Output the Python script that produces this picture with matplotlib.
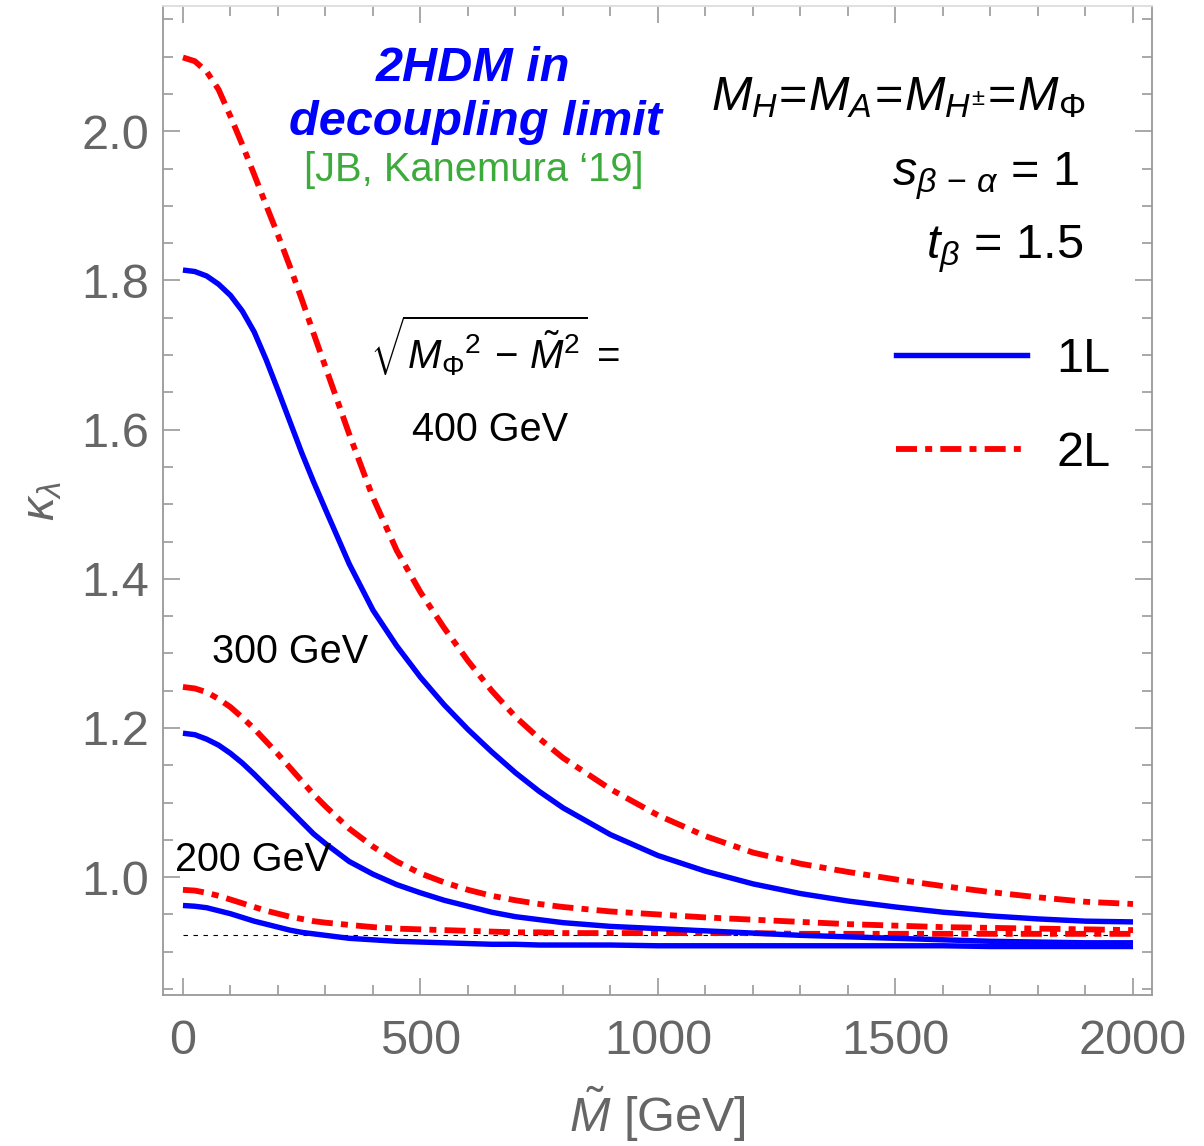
import matplotlib
matplotlib.use('Agg')
import matplotlib.pyplot as plt
from matplotlib.ticker import MultipleLocator

plt.rcParams.update({
    'font.family': ['Liberation Sans', 'DejaVu Sans'],
    'mathtext.fontset': 'custom',
    'mathtext.rm': 'Liberation Sans',
    'mathtext.it': 'Liberation Sans:italic',
    'mathtext.bf': 'Liberation Sans:bold',
})

# M-tilde grid [GeV]
m_tilde = [0, 25, 50, 75, 100, 125, 150, 175, 200, 225, 250, 275, 300,
           350, 400, 450, 500, 550, 600, 650, 700, 750, 800,
           900, 1000, 1100, 1200, 1300, 1400, 1500, 1600, 1700, 1800, 1900, 2000]

# kappa_lambda for sqrt(M_Phi^2 - Mt^2) = 400 GeV
k400_1l = [1.814, 1.812, 1.806, 1.795, 1.780, 1.759, 1.731, 1.694, 1.653, 1.611, 1.569, 1.530, 1.493,
           1.420, 1.358, 1.310, 1.268, 1.231, 1.198, 1.168, 1.140, 1.115, 1.093,
           1.057, 1.029, 1.008, 0.991, 0.978, 0.968, 0.960, 0.953, 0.948, 0.944, 0.941, 0.940]
k400_2l = [2.099, 2.094, 2.080, 2.056, 2.020, 1.982, 1.942, 1.901, 1.861, 1.819, 1.775, 1.729, 1.684,
           1.594, 1.509, 1.438, 1.382, 1.334, 1.290, 1.250, 1.215, 1.186, 1.160,
           1.118, 1.083, 1.055, 1.033, 1.018, 1.007, 0.997, 0.988, 0.980, 0.973, 0.967, 0.964]
# 300 GeV
k300_1l = [1.193, 1.191, 1.185, 1.177, 1.166, 1.153, 1.138, 1.122, 1.106, 1.090, 1.074, 1.058, 1.045,
           1.021, 1.004, 0.990, 0.979, 0.969, 0.961, 0.953, 0.947, 0.943, 0.939,
           0.934, 0.931, 0.928, 0.925, 0.922, 0.920, 0.918, 0.916, 0.914, 0.913, 0.912, 0.912]
k300_2l = [1.255, 1.253, 1.248, 1.239, 1.228, 1.214, 1.199, 1.182, 1.165, 1.147, 1.129, 1.111, 1.095,
           1.065, 1.041, 1.021, 1.005, 0.993, 0.983, 0.975, 0.969, 0.964, 0.960,
           0.954, 0.950, 0.946, 0.943, 0.940, 0.937, 0.935, 0.933, 0.932, 0.931, 0.930, 0.929]
# 200 GeV
k200_1l = [0.962, 0.961, 0.959, 0.955, 0.951, 0.946, 0.941, 0.937, 0.933, 0.929, 0.926, 0.924, 0.922,
           0.918, 0.916, 0.914, 0.913, 0.912, 0.911, 0.910, 0.910, 0.909, 0.909,
           0.909, 0.908, 0.908, 0.908, 0.908, 0.908, 0.908, 0.908, 0.907, 0.907, 0.907, 0.907]
k200_2l = [0.983, 0.982, 0.979, 0.975, 0.970, 0.965, 0.960, 0.955, 0.951, 0.947, 0.944, 0.941, 0.939,
           0.936, 0.933, 0.931, 0.930, 0.929, 0.928, 0.927, 0.926, 0.926, 0.925,
           0.925, 0.925, 0.925, 0.925, 0.924, 0.924, 0.924, 0.924, 0.924, 0.924, 0.924, 0.924]

# SM-like reference level
k_ref = 0.922
ref_range = [0, 2000]

BLUE = '#0000ff'
RED = '#ff0000'
GREY = '#666666'
dashdot = (0, (3.6, 1.4, 1.2, 1.4))

fig = plt.figure(figsize=(12.04, 11.46), dpi=100)
ax = fig.add_axes([163 / 1204, 151 / 1146, 989 / 1204, 989 / 1146])

ax.plot(ref_range, [k_ref, k_ref], color='black', lw=0.8, ls=(0, (4, 5)))

for k1, k2 in [(k200_1l, k200_2l), (k300_1l, k300_2l), (k400_1l, k400_2l)]:
    ax.plot(m_tilde, k1, color=BLUE, lw=3.9, solid_capstyle='butt', solid_joinstyle='round')
    ax.plot(m_tilde, k2, color=RED, lw=4.2, ls=dashdot)

ax.set_xlim(-42, 2040)
ax.set_ylim(0.842, 2.168)

ax.xaxis.set_major_locator(MultipleLocator(500))
ax.xaxis.set_minor_locator(MultipleLocator(100))
ax.yaxis.set_major_locator(MultipleLocator(0.2))
ax.yaxis.set_minor_locator(MultipleLocator(0.05))
ax.yaxis.set_major_formatter(lambda v, p: f'{v:.1f}')

ax.tick_params(which='both', direction='in', top=True, right=True,
               color='#999999', width=1.2, labelsize=35, labelcolor=GREY)
ax.tick_params(which='major', length=12)
ax.tick_params(which='minor', length=7)
ax.tick_params(axis='x', pad=17)
ax.tick_params(axis='y', pad=10)
for s in ax.spines.values():
    s.set_color('#999999')
    s.set_linewidth(1.3)
ax.spines['top'].set_color('#dddddd')

ax.set_xlabel(r'$\tilde{M}$ [GeV]', fontsize=35, color=GREY, labelpad=15)
ax.set_ylabel(r'$\kappa_\lambda$', fontsize=34, color=GREY, labelpad=12)

# annotations
ax.text(610, 2.084, '2HDM in', ha='center', va='center',
        fontsize=35, fontweight='bold', fontstyle='italic', color=BLUE)
ax.text(615, 2.012, 'decoupling limit', ha='center', va='center',
        fontsize=35, fontweight='bold', fontstyle='italic', color=BLUE)
ax.text(613, 1.948, "[JB, Kanemura \u201819]", ha='center', va='center',
        fontsize=28.7, color='#3cab3c')

ax.text(1899, 2.028, r'$M_H\!=\!M_A\!=\!M_{H^{\pm}}\!=\!M_\Phi$', ha='right', va='baseline',
        fontsize=35)
ax.text(1888, 1.928, r'$s_{\beta\,-\,\alpha}$ = 1', ha='right', va='baseline', fontsize=35)
ax.text(1895, 1.830, r'$t_\beta$ = 1.5', ha='right', va='baseline', fontsize=35)

ax.text(657, 1.713, r'$\sqrt{{M_\Phi}^2\,-\,\tilde{M}^2}$ =', ha='center', va='center',
        fontsize=29)
ax.text(646, 1.599, '400 GeV', ha='center', va='center', fontsize=28.5)
ax.text(225, 1.302, '300 GeV', ha='center', va='center', fontsize=28.5)
ax.text(147, 1.023, '200 GeV', ha='center', va='center', fontsize=28.5)

h1, = ax.plot([], [], color=BLUE, lw=3.9)
h2, = ax.plot([], [], color=RED, lw=4.2, ls=dashdot)
ax.legend([h1, h2], ['1L', '2L'], loc='upper left', bbox_to_anchor=(0.697, 0.71),
          frameon=False, fontsize=35, handlelength=2.7, handletextpad=0.6,
          labelspacing=1.02)

fig.savefig('out.png', dpi=100)
